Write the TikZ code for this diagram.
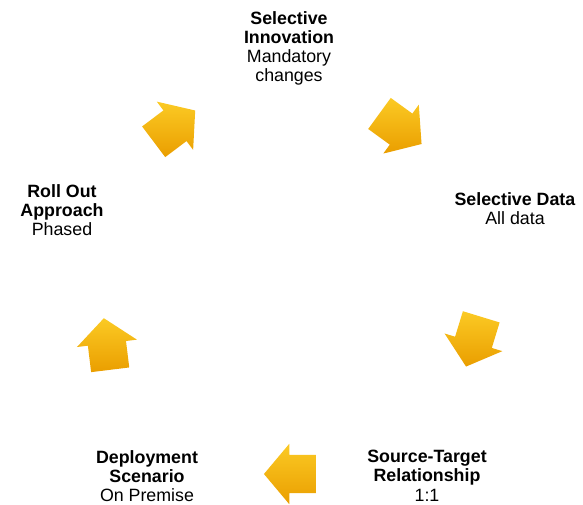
\documentclass[tikz,border=0pt]{standalone}
\usepackage{fontspec}
\setmainfont{Liberation Sans}
\usetikzlibrary{shapes.arrows}

\definecolor{goldmid}{RGB}{245,182,8}
\definecolor{goldlight}{RGB}{251,202,36}
\definecolor{golddark}{RGB}{234,158,0}

\begin{document}
\begin{tikzpicture}[x=1pt, y=1pt,
  lbl/.style={align=center, anchor=north, inner sep=0pt, font=\fontsize{17.8}{19.3}\selectfont},
  blk/.style={single arrow, draw=none, shading=axis, top color=goldlight, middle color=goldmid, bottom color=golddark,
    minimum height=52pt, inner xsep=0pt, inner ysep=19pt, single arrow head extend=11pt, single arrow tip angle=100}]
  \useasboundingbox (0,0) rectangle (583,505);

  % labels round the cycle
  \node[lbl](inno) at (289,494){\textbf{Selective}\\\textbf{Innovation}\\Mandatory\\changes};
  \node[lbl](data) at (515,313){\textbf{Selective Data}\\All data};
  \node[lbl](src) at (427,55){\textbf{Source-Target}\\\textbf{Relationship}\\1:1};
  \node[lbl](dep) at (147,55){\textbf{Deployment}\\\textbf{Scenario}\\On Premise};
  \node[lbl](roll) at (62,321){\textbf{Roll Out}\\\textbf{Approach}\\Phased};

  % block arrows, clockwise
  \node[blk, rotate=37](arrA) at (168,374){};
  \node[blk, rotate=-36](arrB) at (394,381){};
  \node[blk, rotate=-107](arrC) at (476,171){};
  \node[blk, rotate=180](arrD) at (298,31){};
  \node[blk, rotate=97](arrE) at (108,153){};
\end{tikzpicture}
\end{document}
